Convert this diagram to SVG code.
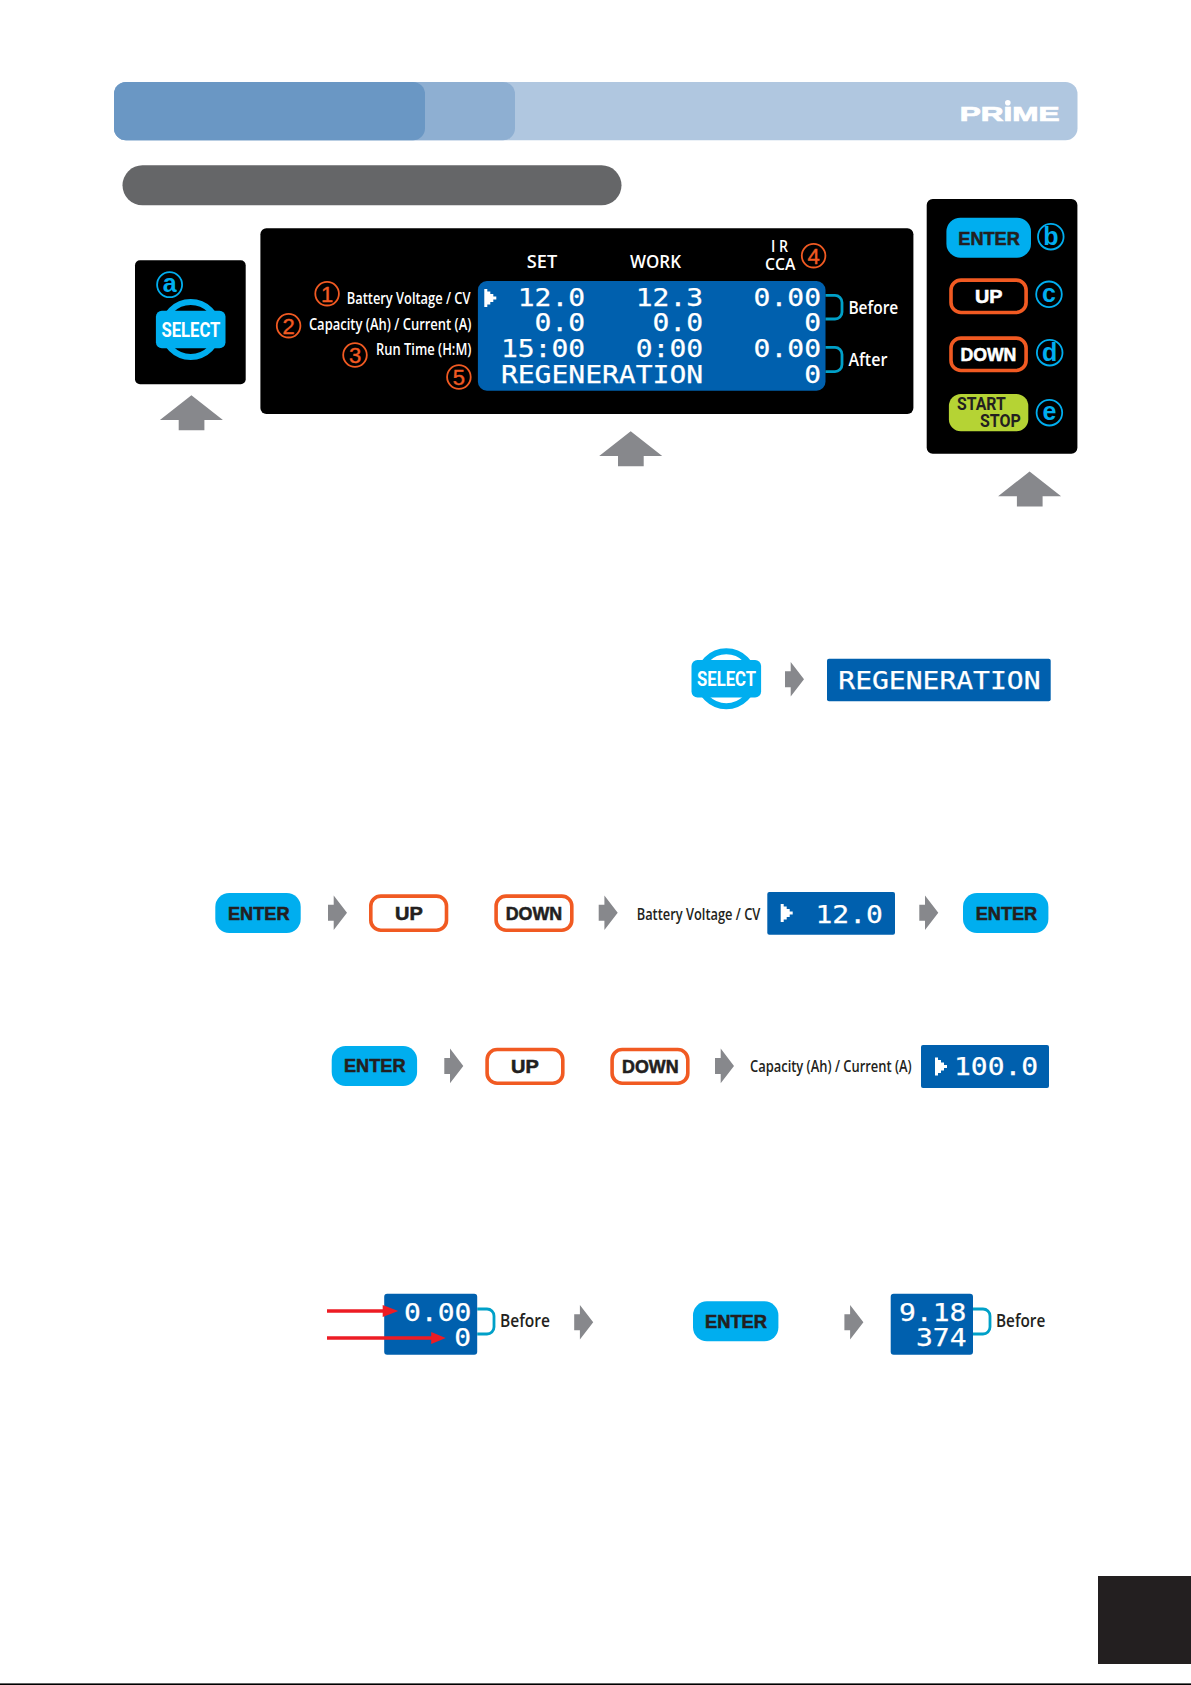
<svg xmlns="http://www.w3.org/2000/svg" width="1191" height="1685" viewBox="0 0 1191 1685">
<style>
.panel{fill:#000}
.lcd{fill:#0060ae}
.l{font-family:"DejaVu Sans Mono","Liberation Mono",monospace;font-size:25.5px;fill:#fff;stroke:#fff;stroke-width:.25}
.w{font-family:"Open Sans","Liberation Sans",sans-serif;font-weight:600;fill:#fff}
.d{font-family:"Open Sans","Liberation Sans",sans-serif;font-weight:600;fill:#231f20}
.b{font-family:"Liberation Sans",Arial,sans-serif;font-weight:700;font-size:18.5px;fill:#231f20;stroke:#231f20;stroke-width:.55}
.bw{fill:#fff;stroke:#fff}
.enter{fill:#00aeef}
.key{fill:#fff;stroke:#f15a22;stroke-width:3.6}
.keyk{fill:#000;stroke:#f15a22;stroke-width:3.6}
.ci{fill:none;stroke-width:1.8}
.o{stroke:#f15a22}
.c{stroke:#00aeef}
.on{font-family:"Liberation Sans",Arial,sans-serif;font-size:22px;fill:#f15a22;stroke:#f15a22;stroke-width:.4;text-anchor:middle}
.cn{font-family:"Liberation Sans",Arial,sans-serif;font-weight:700;font-size:25px;fill:#00aeef;text-anchor:middle}
.br{fill:none;stroke:#00a0c8;stroke-width:2.8}
.ar{fill:#87888c}
.sel{font-family:"Liberation Sans Narrow","Roboto","Liberation Sans",sans-serif;font-weight:700;font-size:20.5px;fill:#fff}
.ss{font-family:"Liberation Sans Narrow","Roboto","Liberation Sans",sans-serif;font-weight:700;font-size:18px;fill:#231f20}
</style>
<defs>
<g id="selectIcon">
<circle cx="0" cy="0" r="27.5" fill="none" stroke="#00aeef" stroke-width="6"/>
<rect x="-34.8" y="-18.8" width="69.6" height="37.6" rx="6" fill="#00aeef"/>
<text class="sel" x="-29.3" y="7.2" textLength="59" lengthAdjust="spacingAndGlyphs">SELECT</text>
</g>
<polygon id="upArrow" class="ar" points="0,0 31.5,24.7 13,24.7 13,35 -12.7,35 -12.7,24.7 -31.5,24.7"/>
<polygon id="nextArrow" class="ar" points="0,-8 5.7,-8 5.7,-17.3 19,0 5.7,17.3 5.7,8 0,8"/>
<rect id="enterKey" class="enter" width="85.4" height="40" rx="14"/>
<polygon id="cursor" fill="#fff" points="0,0 3,0 3,2.5 6,2.5 6,5 9,5 9,7.5 12,7.5 12,10.5 9,10.5 9,13 6,13 6,15.5 3,15.5 3,18 0,18"/>
</defs>

<g id="header-bar">
<rect x="114" y="82" width="963.5" height="58.3" rx="12" fill="#b0c7e0"/>
<rect x="114" y="82" width="401" height="58.3" rx="12" fill="#8eafd2"/>
<rect x="114" y="82" width="311" height="58.3" rx="12" fill="#6a97c4"/>
<g id="logo">
<text x="959.7" y="121" font-family="Liberation Sans,Arial,sans-serif" font-weight="700" font-size="19.5" fill="#fff" stroke="#fff" stroke-width=".7" textLength="100" lengthAdjust="spacingAndGlyphs">PRIME</text>
<circle cx="1007.8" cy="102.8" r="2.8" fill="#fff"/>
</g>
</g>
<g id="sub-bar"><rect x="122.5" y="165.3" width="499" height="40" rx="20" fill="#656668"/></g>

<g id="select-panel">
<rect class="panel" x="135" y="260.3" width="110.7" height="124" rx="5"/>
<circle class="ci c" cx="169.6" cy="284.7" r="12.5"/>
<text class="cn" x="169.6" y="291.5">a</text>
<use href="#selectIcon" x="190.7" y="329.5"/>
</g>

<g id="display-panel">
<rect class="panel" x="260.4" y="228.3" width="653" height="185.7" rx="6"/>
<text class="w" x="526.8" y="268.3" font-size="18.5" textLength="30.4" lengthAdjust="spacingAndGlyphs">SET</text>
<text class="w" x="630" y="268.3" font-size="18.5" textLength="51" lengthAdjust="spacingAndGlyphs">WORK</text>
<text class="w" x="771" y="252" font-size="16" textLength="17" lengthAdjust="spacingAndGlyphs">I R</text>
<text class="w" x="765" y="270" font-size="17" textLength="30.3" lengthAdjust="spacingAndGlyphs">CCA</text>
<text class="w" x="346.8" y="304.3" font-size="15.5" textLength="123.6" lengthAdjust="spacingAndGlyphs">Battery Voltage / CV</text>
<text class="w" x="308.9" y="330" font-size="15.5" textLength="162.5" lengthAdjust="spacingAndGlyphs">Capacity (Ah) / Current (A)</text>
<text class="w" x="376" y="354.7" font-size="15.5" textLength="95.4" lengthAdjust="spacingAndGlyphs">Run Time (H:M)</text>
<circle class="ci o" cx="327.1" cy="293.7" r="11.8"/><text class="on" x="327.1" y="301.5">1</text>
<circle class="ci o" cx="288.6" cy="325.7" r="11.8"/><text class="on" x="288.6" y="333.5">2</text>
<circle class="ci o" cx="355" cy="355" r="11.8"/><text class="on" x="355" y="362.8">3</text>
<circle class="ci o" cx="458.9" cy="377" r="11.8"/><text class="on" x="458.9" y="384.8">5</text>
<circle class="ci o" cx="813.6" cy="255.7" r="11.8"/><text class="on" x="813.6" y="263.5">4</text>
<rect class="lcd" x="477.9" y="281" width="347.6" height="109.7" rx="9"/>
<use href="#cursor" x="484.3" y="289"/>
<text class="l" x="517.7" y="306" textLength="67.4" lengthAdjust="spacingAndGlyphs">12.0</text>
<text class="l" x="635.7" y="306" textLength="67.4" lengthAdjust="spacingAndGlyphs">12.3</text>
<text class="l" x="753.6" y="306" textLength="67.4" lengthAdjust="spacingAndGlyphs">0.00</text>
<text class="l" x="534.5" y="330.7" textLength="50.6" lengthAdjust="spacingAndGlyphs">0.0</text>
<text class="l" x="652.5" y="330.7" textLength="50.6" lengthAdjust="spacingAndGlyphs">0.0</text>
<text class="l" x="804.2" y="330.7" textLength="16.85" lengthAdjust="spacingAndGlyphs">0</text>
<text class="l" x="500.9" y="356.7" textLength="84.2" lengthAdjust="spacingAndGlyphs">15:00</text>
<text class="l" x="635.7" y="356.7" textLength="67.4" lengthAdjust="spacingAndGlyphs">0:00</text>
<text class="l" x="753.6" y="356.7" textLength="67.4" lengthAdjust="spacingAndGlyphs">0.00</text>
<text class="l" x="500.9" y="382.7" textLength="202.2" lengthAdjust="spacingAndGlyphs">REGENERATION</text>
<text class="l" x="804.2" y="382.7" textLength="16.85" lengthAdjust="spacingAndGlyphs">0</text>
<path class="br" d="M825.5 295.4H835a7 7 0 0 1 7 7V312a7 7 0 0 1-7 7H825.5"/>
<path class="br" d="M825.5 347.4H835a7 7 0 0 1 7 7V364.6a7 7 0 0 1-7 7H825.5"/>
<text class="w" x="848.4" y="314" font-size="18.5" textLength="49.9" lengthAdjust="spacingAndGlyphs">Before</text>
<text class="w" x="848.4" y="366" font-size="18.5" textLength="39" lengthAdjust="spacingAndGlyphs">After</text>
</g>

<g id="button-panel">
<rect class="panel" x="926.7" y="199" width="150.7" height="254.7" rx="6"/>
<rect class="enter" x="946.4" y="217.7" width="84.6" height="40" rx="14"/>
<text class="b" x="958.3" y="245" textLength="61.5" lengthAdjust="spacingAndGlyphs">ENTER</text>
<circle class="ci c" cx="1050.8" cy="236.7" r="12.8"/><text class="cn" x="1050.8" y="245.4">b</text>
<rect class="keyk" x="951" y="280.1" width="75.1" height="32.4" rx="10"/>
<text class="b bw" x="975" y="302.7" textLength="27.5" lengthAdjust="spacingAndGlyphs">UP</text>
<circle class="ci c" cx="1049" cy="294.3" r="12.8"/><text class="cn" x="1049" y="302">c</text>
<rect class="keyk" x="951" y="338.1" width="75.1" height="32.4" rx="10"/>
<text class="b bw" x="960.4" y="361" textLength="56" lengthAdjust="spacingAndGlyphs">DOWN</text>
<circle class="ci c" cx="1049.7" cy="352.7" r="12.8"/><text class="cn" x="1049.7" y="361.4">d</text>
<rect x="948.9" y="394" width="79.4" height="37.3" rx="12" fill="#b5d334"/>
<text class="ss" x="957" y="410.3" textLength="48.8" lengthAdjust="spacingAndGlyphs">START</text>
<text class="ss" x="980" y="426.7" textLength="40.9" lengthAdjust="spacingAndGlyphs">STOP</text>
<circle class="ci c" cx="1049.4" cy="412.7" r="12.8"/><text class="cn" x="1049.4" y="420.4">e</text>
</g>

<g id="step-select">
<use href="#selectIcon" x="726.3" y="678.8"/>
<rect class="lcd" x="827" y="658.7" width="223.7" height="42.6" rx="2"/>
<text class="l" x="838.3" y="689" textLength="202.2" lengthAdjust="spacingAndGlyphs">REGENERATION</text>
</g>

<g id="step-voltage">
<use href="#enterKey" x="215.3" y="893"/>
<text class="b" x="228" y="919.5" textLength="61.5" lengthAdjust="spacingAndGlyphs">ENTER</text>
<rect class="key" x="370.8" y="896.1" width="75.7" height="34.1" rx="10"/>
<text class="b" x="395" y="919.7" textLength="27.7" lengthAdjust="spacingAndGlyphs">UP</text>
<rect class="key" x="496.1" y="896.1" width="75.7" height="34.1" rx="10"/>
<text class="b" x="505.7" y="919.7" textLength="56.6" lengthAdjust="spacingAndGlyphs">DOWN</text>
<text class="d" x="636.7" y="920" font-size="15.5" textLength="123.6" lengthAdjust="spacingAndGlyphs">Battery Voltage / CV</text>
<rect class="lcd" x="767.3" y="892" width="127.7" height="42.7" rx="2"/>
<use href="#cursor" x="780.7" y="904"/>
<text class="l" x="815.5" y="922.7" textLength="67.4" lengthAdjust="spacingAndGlyphs">12.0</text>
<use href="#enterKey" x="963" y="893"/>
<text class="b" x="975.7" y="919.5" textLength="61.5" lengthAdjust="spacingAndGlyphs">ENTER</text>
</g>

<g id="step-capacity">
<use href="#enterKey" x="331.7" y="1046"/>
<text class="b" x="344" y="1072.3" textLength="61.5" lengthAdjust="spacingAndGlyphs">ENTER</text>
<rect class="key" x="487.1" y="1049.5" width="75.7" height="33.7" rx="10"/>
<text class="b" x="511" y="1072.7" textLength="27.7" lengthAdjust="spacingAndGlyphs">UP</text>
<rect class="key" x="612.1" y="1049.5" width="75.7" height="33.7" rx="10"/>
<text class="b" x="622" y="1072.7" textLength="56.6" lengthAdjust="spacingAndGlyphs">DOWN</text>
<text class="d" x="750" y="1071.7" font-size="15.5" textLength="161.7" lengthAdjust="spacingAndGlyphs">Capacity (Ah) / Current (A)</text>
<rect class="lcd" x="921" y="1045" width="128" height="43" rx="2"/>
<use href="#cursor" x="935" y="1057.5"/>
<text class="l" x="954" y="1075" textLength="84.2" lengthAdjust="spacingAndGlyphs">100.0</text>
</g>

<g id="step-measure">
<rect class="lcd" x="384.2" y="1293.7" width="93" height="61" rx="3"/>
<text class="l" x="404" y="1320.7" textLength="67.4" lengthAdjust="spacingAndGlyphs">0.00</text>
<text class="l" x="454.2" y="1346" textLength="16.85" lengthAdjust="spacingAndGlyphs">0</text>
<path class="br" d="M477.2 1309H487a7 7 0 0 1 7 7V1327a7 7 0 0 1-7 7H477.2"/>
<text class="d" x="500" y="1327.3" font-size="18.5" textLength="50" lengthAdjust="spacingAndGlyphs">Before</text>
<use href="#enterKey" x="693" y="1301.3"/>
<text class="b" x="705" y="1328.3" textLength="62" lengthAdjust="spacingAndGlyphs">ENTER</text>
<rect class="lcd" x="890.7" y="1293.7" width="82.3" height="61" rx="3"/>
<text class="l" x="899" y="1320.7" textLength="67.4" lengthAdjust="spacingAndGlyphs">9.18</text>
<text class="l" x="916" y="1346" textLength="50.6" lengthAdjust="spacingAndGlyphs">374</text>
<path class="br" d="M973 1309H983a7 7 0 0 1 7 7V1327a7 7 0 0 1-7 7H973"/>
<text class="d" x="996" y="1327.3" font-size="18.5" textLength="49.3" lengthAdjust="spacingAndGlyphs">Before</text>
</g>

<g id="connectors">
<use href="#upArrow" x="191.4" y="395.3"/>
<use href="#upArrow" x="630.7" y="431.3"/>
<use href="#upArrow" x="1029.6" y="471.5"/>
<use href="#nextArrow" x="785" y="679.3"/>
<use href="#nextArrow" x="328" y="912.7"/>
<use href="#nextArrow" x="598.7" y="912.7"/>
<use href="#nextArrow" x="919.3" y="912.7"/>
<use href="#nextArrow" x="444.3" y="1065.9"/>
<use href="#nextArrow" x="715" y="1065.9"/>
<use href="#nextArrow" x="574.2" y="1322.3"/>
<use href="#nextArrow" x="844.4" y="1322.3"/>
<path d="M327 1311H384" stroke="#ed1c24" stroke-width="3.6" fill="none"/>
<polygon points="382.7,1305 398.2,1311 382.7,1317" fill="#ed1c24"/>
<path d="M327 1338H432" stroke="#ed1c24" stroke-width="3.6" fill="none"/>
<polygon points="431.2,1332 445.7,1338 431.2,1344" fill="#ed1c24"/>
</g>

<g id="page-tab"><rect x="1098" y="1576" width="93" height="88" fill="#231f20"/></g>
<rect id="page-edge" x="0" y="1683.4" width="1191" height="1.6" fill="#000"/>
</svg>
